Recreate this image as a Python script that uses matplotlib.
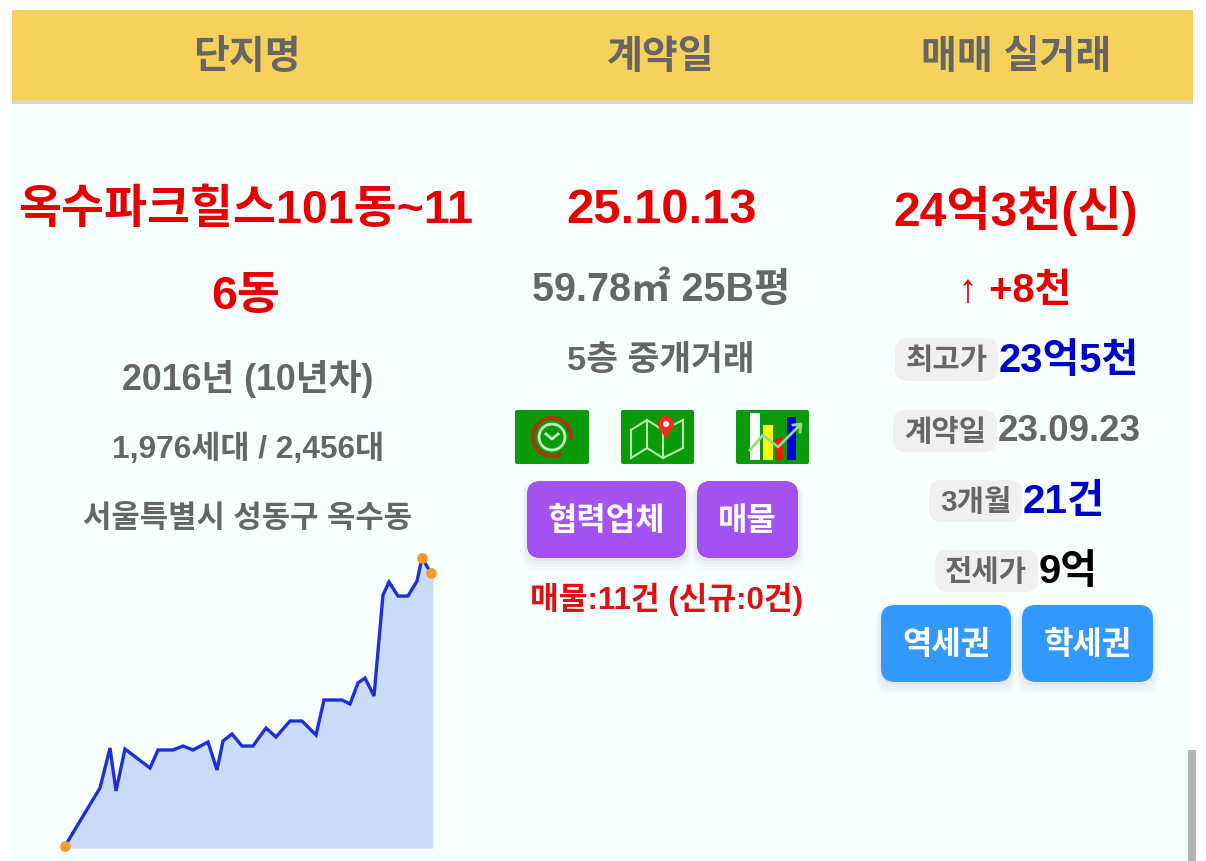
import numpy as np
import matplotlib
matplotlib.use('Agg')
import matplotlib.pyplot as plt
from matplotlib.patches import FancyBboxPatch, Rectangle, Circle, Arc, Polygon

plt.rcParams['font.family'] = ['Liberation Sans', 'Noto Sans CJK KR', 'DejaVu Sans']

W, H = 1206, 861

# price line (x position, height above the base)
spark_x = [0, 35, 45, 51, 60, 85, 93, 108, 118, 128, 143, 152, 158, 167, 177, 188, 201,
           211, 225, 237, 251, 259, 277, 285, 293, 300, 309, 318, 324, 333, 343, 352, 357, 366]
spark_y = [2, 60, 100, 57, 99, 80, 98, 98, 102, 98, 106, 78, 107, 114, 102, 102, 120,
           111, 127, 127, 113, 148, 148, 144, 165, 170, 152, 253, 266, 252, 252, 267, 290, 275]
marker_idx = [0, 32, 33]

headers = ['단지명', '계약일', '매매 실거래']
left_lines = ['2016년 (10년차)', '1,976세대 / 2,456대', '서울특별시 성동구 옥수동']
mid_lines = ['59.78㎡ 25B평', '5층 중개거래']
pill_labels = ['최고가', '계약일', '3개월', '전세가']
pill_values = ['23억5천', '23.09.23', '21건', '9억']

GREY = '#666666'
RED = '#e60000'
BLUE = '#0000cc'


def px(size):
    return size * 0.72


def label(ax, x, y, s, size, color=GREY, ha='center', weight='bold'):
    # the CJK font sits high with va=center, push it back down
    ax.text(x, y + 0.1 * size, s, fontsize=px(size), color=color, ha=ha, va='center', fontweight=weight)


def rounded(ax, x0, y0, x1, y1, r, color, z=2):
    box = FancyBboxPatch((x0 + r, y0 + r), x1 - x0 - 2 * r, y1 - y0 - 2 * r,
                         boxstyle='round,pad=%d,rounding_size=%d' % (r, r),
                         fc=color, ec='none', zorder=z)
    ax.add_patch(box)
    return box


def button(ax, x0, y0, x1, y1, s, color, color2=None):
    # soft shadow under the button
    for grow, a in zip([12, 9, 6, 3], [0.02, 0.03, 0.03, 0.04]):
        b = rounded(ax, x0 - grow // 2, y0 + 3, x1 + grow // 2, y1 + grow, 14, '#555577', z=2)
        b.set_alpha(a)
    box = rounded(ax, x0, y0, x1, y1, 14, color, z=3)
    if color2:
        grad = np.linspace(0, 1, 64).reshape(-1, 1)
        cmap = matplotlib.colors.LinearSegmentedColormap.from_list('b', [color, color2])
        im = ax.imshow(grad, extent=(x0, x1, y1, y0), cmap=cmap, aspect='auto', zorder=3)
        im.set_clip_path(box)
    label(ax, (x0 + x1) / 2, (y0 + y1) / 2 - 1, s, 32, 'white')


def icon_clock(ax, x0, y0):
    rounded(ax, x0, y0, x0 + 74, y0 + 54, 2, '#0a9a0a', z=3)
    cx, cy = x0 + 37, y0 + 27
    ax.add_patch(Arc((cx, cy), 38, 38, theta1=60, theta2=370, ec='#a03c10', lw=3, zorder=4))
    ax.add_patch(Circle((cx, cy), 13, fc='none', ec='#c8f5c0', lw=2, zorder=4))
    ax.plot([cx - 6, cx, cx + 6], [cy - 3, cy + 2, cy - 3], color='#c8f5c0', lw=2, zorder=4)


def icon_map(ax, x0, y0):
    rounded(ax, x0, y0, x0 + 73, y0 + 54, 2, '#0a9a0a', z=3)
    xs = [x0 + 10, x0 + 26, x0 + 42, x0 + 62]
    top = [y0 + 20, y0 + 10, y0 + 20, y0 + 10]
    bot = [y0 + 48, y0 + 38, y0 + 48, y0 + 38]
    ax.plot(xs, top, color='#b8f0b0', lw=1.5, zorder=4)
    ax.plot(xs, bot, color='#b8f0b0', lw=1.5, zorder=4)
    for x, t, b in zip(xs, top, bot):
        ax.plot([x, x], [t, b], color='#b8f0b0', lw=1.5, zorder=4)
    ax.add_patch(Circle((x0 + 45, y0 + 14), 8, fc='#e8301c', ec='none', zorder=5))
    ax.add_patch(Polygon([(x0 + 38, y0 + 18), (x0 + 52, y0 + 18), (x0 + 45, y0 + 29)],
                         fc='#e8301c', ec='none', zorder=5))
    ax.add_patch(Circle((x0 + 45, y0 + 14), 3, fc='white', ec='none', zorder=6))


def icon_chart(ax, x0, y0):
    rounded(ax, x0, y0, x0 + 73, y0 + 54, 2, '#0a9a0a', z=3)
    for dx, w, top, c in zip([14, 27, 39, 51], [10, 10, 8, 9], [3, 15, 28, 7],
                             ['white', '#ffff00', '#e02000', '#0000e0']):
        ax.add_patch(Rectangle((x0 + dx, y0 + top), w, 50 - top, fc=c, ec='none', zorder=4))
    ax.plot([x0 + 14, x0 + 27, x0 + 42, x0 + 64], [y0 + 40, y0 + 25, y0 + 37, y0 + 15],
            color='#90d890', lw=2, zorder=5)
    ax.plot([x0 + 57, x0 + 65, x0 + 64], [y0 + 15, y0 + 14, y0 + 22], color='#90d890', lw=2, zorder=5)


fig = plt.figure(figsize=(W / 100, H / 100), dpi=100, facecolor='white')
ax = fig.add_axes([0, 0, 1, 1])
ax.set_xlim(0, W)
ax.set_ylim(H, 0)
ax.axis('off')

# page background and header band
ax.add_patch(Rectangle((12, 100), 1181, H - 100, fc='#f8ffff', ec='none', zorder=0))
ax.add_patch(Rectangle((12, 10), 1181, 90, fc='#f6d25c', ec='none', zorder=1))
ax.add_patch(Rectangle((12, 100), 1181, 4, fc='#d8d6cc', ec='none', zorder=1))
ax.add_patch(Rectangle((1188, 750), 8, 111, fc='#b4b4b4', ec='none', zorder=1))

for x, s in zip([247, 661, 1016], headers):
    label(ax, x, 54, s, 39)

# left column
label(ax, 246, 206, '옥수파크힐스101동~11', 46.7, RED)
label(ax, 246, 292, '6동', 46.7, RED)
for y, size, s in zip([375, 446, 516], [35.7, 31.7, 30.8], left_lines):
    label(ax, 248, y, s, size)

# middle column
label(ax, 661, 206, '25.10.13', 49, RED)
label(ax, 661, 286, mid_lines[0], 39.5)
label(ax, 661, 358, mid_lines[1], 34.5)
icon_clock(ax, 515, 410)
icon_map(ax, 621, 410)
icon_chart(ax, 736, 410)
button(ax, 527, 481, 686, 558, '협력업체', '#a455ec', '#a450f8')
button(ax, 697, 481, 798, 558, '매물', '#a455ec', '#a450f8')
label(ax, 666, 596, '매물:11건 (신규:0건)', 31.3, '#e01010')

# right column
label(ax, 1016, 206, '24억3천(신)', 48, RED)
label(ax, 1015, 287, '↑ +8천', 40, RED)

pill_boxes = [(895, 998, 338, 381), (893, 997, 410, 452), (929, 1022, 480, 522), (935, 1038, 550, 592)]
value_colors = [BLUE, GREY, BLUE, 'black']
value_sizes = [40, 36.8, 40.5, 40]
for (x0, x1, y0, y1), s, v, c, vs in zip(pill_boxes, pill_labels, pill_values, value_colors, value_sizes):
    rounded(ax, x0, y0, x1, y1, 13, '#f0f0f0')
    label(ax, (x0 + x1) / 2, (y0 + y1) / 2 - 1, s, 29.7)
    label(ax, x1 + 1, (y0 + y1) / 2 - 3, v, vs, c, ha='left')

button(ax, 881, 605, 1011, 682, '역세권', '#3399ff')
button(ax, 1022, 605, 1153, 682, '학세권', '#3399ff')

# sparkline
spark = fig.add_axes([65 / W, 1 - 848 / H, 368 / W, 300 / H])
spark.set_xlim(0, 368)
spark.set_ylim(0, 300)
spark.axis('off')
spark.patch.set_alpha(0)
spark.fill_between(spark_x + [368], spark_y + [spark_y[-1]], 0, color='#cbdcfb', lw=0, zorder=1)
spark.plot(spark_x, spark_y, color='#1f2fd8', lw=2.4, zorder=2, solid_joinstyle='miter')
spark.scatter([spark_x[i] for i in marker_idx], [spark_y[i] for i in marker_idx],
              s=60, color='#f59a2c', zorder=3, clip_on=False, linewidths=0)

fig.savefig('out.png', dpi=100, facecolor='white')
